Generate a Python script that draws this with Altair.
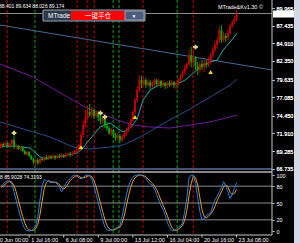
import json
import altair as alt
import pandas as pd

# ---------------- data ----------------
bar_open = [69.91, 70.34, 70.05, 70.49, 70.05, 70.34, 70.92, 69.91, 70.05, 69.62,
            69.91, 69.33, 68.90, 69.19, 68.61, 68.18, 67.74, 68.03, 67.60, 68.18,
            68.03, 68.47, 68.18, 68.61, 68.32, 68.61, 68.32, 68.61, 68.47, 68.75,
            68.47, 68.75, 68.90, 68.75, 69.04, 69.19, 69.47, 70.20, 71.64, 73.08,
            74.10, 74.96, 74.53, 75.25, 74.38, 74.81, 74.10, 73.66, 73.95, 72.94,
            72.65, 71.93, 72.36, 71.64, 71.21, 71.50, 70.92, 71.35, 71.78, 72.36,
            72.94, 73.80, 74.96, 76.69, 78.13, 79.57, 79.00, 79.57, 78.85, 79.29,
            78.71, 79.14, 79.57, 79.00, 79.43, 78.85, 79.14, 78.71, 79.14, 78.85,
            79.29, 78.85, 79.00, 79.57, 80.15, 80.73, 81.31, 81.88, 83.18, 82.17,
            82.75, 81.60, 81.02, 81.88, 81.45, 82.03, 81.74, 82.46, 83.18, 83.91,
            84.63, 85.35, 86.79, 85.35, 85.93, 85.64, 86.36, 87.37, 87.95, 88.401]
bar_close = [70.34, 70.05, 70.49, 70.05, 70.34, 70.92, 69.91, 70.05, 69.62, 69.91,
             69.33, 68.90, 69.19, 68.61, 68.18, 67.74, 68.03, 67.60, 68.18, 68.03,
             68.47, 68.18, 68.61, 68.32, 68.61, 68.32, 68.61, 68.47, 68.75, 68.47,
             68.75, 68.90, 68.75, 69.04, 69.19, 69.47, 70.20, 71.64, 73.08, 74.10,
             74.96, 74.53, 75.25, 74.38, 74.81, 74.10, 73.66, 73.95, 72.94, 72.65,
             71.93, 72.36, 71.64, 71.21, 71.50, 70.92, 71.35, 71.78, 72.36, 72.94,
             73.80, 74.96, 76.69, 78.13, 79.57, 79.00, 79.57, 78.85, 79.29, 78.71,
             79.14, 79.57, 79.00, 79.43, 78.85, 79.14, 78.71, 79.14, 78.85, 79.29,
             78.85, 79.00, 79.57, 80.15, 80.73, 81.31, 81.88, 83.18, 82.17, 82.75,
             81.60, 81.02, 81.88, 81.45, 82.03, 81.74, 82.46, 83.18, 83.91, 84.63,
             85.35, 86.79, 85.35, 85.93, 85.64, 86.36, 87.37, 87.95, 88.40, 89.174]
bar_high = [70.63, 70.49, 70.77, 70.63, 70.49, 71.06, 71.50, 70.34, 70.20, 70.05,
            70.05, 69.47, 69.33, 69.33, 68.75, 68.32, 68.18, 68.32, 68.32, 68.47,
            68.61, 68.75, 68.75, 68.75, 68.90, 68.75, 68.75, 68.90, 69.04, 68.90,
            69.04, 69.19, 69.19, 69.33, 69.47, 69.76, 70.34, 72.07, 73.80, 75.25,
            75.82, 76.11, 75.68, 75.53, 75.25, 75.10, 74.38, 74.38, 74.10, 73.51,
            72.94, 72.65, 72.51, 71.93, 71.93, 71.78, 71.64, 72.07, 72.65, 73.23,
            74.10, 75.25, 76.98, 78.71, 80.30, 80.15, 80.01, 79.86, 79.72, 79.57,
            79.43, 79.86, 79.72, 79.72, 79.57, 79.57, 79.29, 79.43, 79.57, 79.57,
            79.43, 79.29, 79.86, 80.44, 81.02, 81.74, 82.17, 83.91, 84.34, 84.48,
            83.04, 82.17, 82.17, 82.46, 82.46, 82.46, 82.89, 83.47, 84.34, 85.06,
            85.78, 87.37, 87.51, 86.50, 86.36, 86.79, 87.66, 88.23, 88.81, 89.634]
bar_low = [69.76, 69.91, 69.91, 69.76, 69.76, 70.05, 69.62, 69.62, 69.47, 69.33,
           69.19, 68.75, 68.61, 68.47, 68.03, 67.45, 67.17, 67.31, 67.45, 67.89,
           67.89, 68.03, 68.03, 68.18, 68.18, 68.03, 68.18, 68.32, 68.32, 68.32,
           68.32, 68.61, 68.47, 68.61, 68.90, 69.04, 69.33, 70.05, 71.35, 72.79,
           73.80, 74.24, 74.10, 73.95, 74.10, 73.66, 73.23, 73.23, 72.65, 72.22,
           71.64, 71.50, 71.21, 70.77, 70.92, 70.49, 70.63, 71.06, 71.50, 72.07,
           72.65, 73.51, 74.67, 76.40, 77.84, 78.42, 78.71, 78.42, 78.57, 78.28,
           78.42, 78.71, 78.57, 78.71, 78.42, 78.57, 78.28, 78.42, 78.57, 78.71,
           78.42, 78.13, 78.71, 79.29, 79.86, 80.44, 81.02, 81.60, 81.45, 81.60,
           81.02, 80.30, 80.59, 81.02, 80.73, 81.31, 81.45, 81.88, 82.75, 83.47,
           84.19, 84.92, 84.92, 85.06, 85.06, 85.35, 86.07, 87.08, 87.66, 88.026]

stoch_k = [80, 84, 88, 90, 88, 84, 70, 55, 40, 25,
           12, 4, 1, 0, 1, 3, 8, 25, 55, 80,
           92, 90, 88, 86, 88, 87, 84, 78, 70, 78,
           85, 90, 94, 98, 100, 98, 95, 93, 96, 99,
           100, 98, 92, 80, 65, 50, 35, 20, 8, 2,
           1, 2, 3, 5, 6, 10, 25, 45, 65, 80,
           90, 96, 99, 100, 100, 99, 98, 94, 88, 84,
           82, 75, 65, 55, 45, 38, 28, 15, 6, 1,
           0, 3, 7, 8, 15, 35, 60, 95, 100, 100,
           85, 60, 35, 20, 22, 28, 30, 32, 45, 55,
           62, 70, 78, 88, 80, 70, 58, 66, 76, 85.9028]
stoch_d = [78, 80, 84, 87, 89, 87, 81, 70, 55, 40,
           26, 14, 6, 2, 1, 1, 4, 12, 29, 53,
           76, 87, 90, 88, 87, 87, 86, 83, 77, 75,
           78, 84, 90, 94, 97, 99, 98, 95, 95, 96,
           98, 99, 97, 90, 79, 65, 50, 35, 21, 10,
           4, 2, 2, 3, 5, 7, 14, 27, 45, 63,
           78, 89, 95, 98, 100, 100, 99, 97, 93, 89,
           85, 80, 74, 65, 55, 46, 37, 27, 16, 7,
           2, 1, 3, 6, 10, 19, 37, 63, 85, 98,
           95, 82, 60, 38, 26, 23, 27, 30, 36, 44,
           54, 62, 70, 79, 82, 79, 69, 65, 67, 74.3193]

ma_fast_bar = [-0.5, 6.5, 13.4, 18.1, 20.4, 25.9, 30.6, 35.2, 37.5, 41.2, 45.8, 50.5, 53.7, 56.5,
               59.7, 63.0, 65.7, 69.0, 72.2, 75.9, 81.5, 85.2, 87.5, 92.1, 96.8, 100.0, 102.8,
               106.0, 109.3]
ma_fast_val = [69.91, 70.05, 69.76, 68.47, 68.18, 68.47, 68.75, 69.04, 69.62, 71.06, 72.79, 73.37,
               72.65, 72.07, 72.65, 73.95, 76.69, 78.13, 78.71, 79.00, 79.00, 79.57, 80.15, 81.45,
               82.17, 82.46, 83.91, 85.06, 86.36]
ma_mid_bar = [-0.5, 8.8, 22.7, 33.3, 41.2, 50.5, 56.5, 64.4, 72.2, 79.6, 87.5, 96.8, 106.0, 109.3]
ma_mid_val = [73.52, 72.65, 71.35, 69.91, 69.62, 69.91, 70.20, 71.35, 72.79, 74.09, 75.39, 77.12,
              78.85, 79.72]
ma_slow_bar = [-0.5, 14.8, 30.6, 39.8, 45.8, 53.7, 61.1, 69.0, 78.2, 87.5, 96.8, 109.3]
ma_slow_val = [81.88, 80.01, 77.12, 75.53, 74.81, 73.80, 73.08, 72.79, 72.65, 73.08, 73.52, 74.53]
trend_bar = [-0.5, 125.4]
trend_val = [87.51, 81.02]

red_signal_bars = [2.8, 35.2, 39.8, 43.1, 65.7, 88.9]
green_signal_bars = [15.7, 51.9, 54.6, 81.5]
cross_bars = [6, 46, 48, 90]
cross_prices = [71.93, 74.81, 74.24, 84.34]
arrow_bars = [37, 62, 97]
arrow_prices = [69.91, 74.24, 80.73]

price_ticks = [89.965, 87.435, 84.910, 82.350, 79.635, 77.085, 74.450, 71.910, 69.285, 66.735]
stoch_ticks = [100, 80, 50, 20, 0]
stoch_levels = [80, 50, 20]
time_tick_bars = [-3, 13, 29, 45, 61, 77, 93, 109]
time_tick_labels = ["30 Jun 00:00", "1 Jul 16:00", "6 Jul 08:00", "9 Jul 00:00",
                    "13 Jul 12:00", "16 Jul 04:00", "20 Jul 16:00", "23 Jul 08:00"]
ohlc_header = "88.401 89.634 88.026 89.174"
stoch_header = "8 85.9028 74.3193"
current_price = [89.174]

# ---------------- styling ----------------
FONT = "Liberation Sans"
TXT = "#ffffff"
W, H = 272, 235

bars = pd.DataFrame({"i": list(range(len(bar_close))), "o": bar_open, "c": bar_close,
                     "h": bar_high, "l": bar_low})
bars["dir"] = ["up" if c >= o else "down" for o, c in zip(bar_open, bar_close)]
stoch = pd.DataFrame({"i": list(range(len(stoch_k))), "k": stoch_k, "d": stoch_d})
tlab = pd.DataFrame({"i": time_tick_bars, "t": time_tick_labels})

x_scale = alt.Scale(domain=[-0.5, 125.4], nice=False, zero=False)
x_axis = None
p_scale = alt.Scale(domain=[66.59, 91.12], range=[170, 0], nice=False, zero=False)
p_axis = alt.Axis(orient="right", values=price_ticks, format=".3f", labelFont=FONT, labelFontSize=5.5,
                  labelColor=TXT, tickColor="#c8c8c8", tickSize=2, domain=False, grid=False, title=None,
                  labelPadding=2, labelOverlap=False, labelFlush=False)
s_scale = alt.Scale(domain=[0, 100], range=[231, 175], nice=False, zero=False)
s_axis = alt.Axis(orient="right", values=stoch_ticks, format="d", labelFont=FONT, labelFontSize=5.5,
                  labelColor=TXT, tickColor="#c8c8c8", tickSize=2, domain=False, grid=False, title=None,
                  labelPadding=2, labelOverlap=False, labelFlush=False)


def X(f):
    return alt.X(f, type="quantitative", scale=x_scale, axis=x_axis)


def YP(f):
    return alt.Y(f, type="quantitative", scale=p_scale, axis=p_axis)


def YS(f):
    return alt.Y(f, type="quantitative", scale=s_scale, axis=s_axis)


one = pd.DataFrame({"a": [0]})

# vertical signal lines
vl = pd.DataFrame({"i": red_signal_bars + green_signal_bars,
                   "col": ["r"] * len(red_signal_bars) + ["g"] * len(green_signal_bars)})
vlines = alt.Chart(vl).mark_rule(strokeDash=[3, 2], strokeWidth=1).encode(
    x=X("i"), y=alt.value(0), y2=alt.value(235),
    color=alt.Color("col:N", scale=alt.Scale(domain=["r", "g"], range=["#c00000", "#00a800"]), legend=None))

# time axis (ticks + labels drawn through the x scale)
tticks = alt.Chart(tlab).mark_rule(color="#c8c8c8", strokeWidth=1).encode(
    x=X("i"), y=alt.value(235), y2=alt.value(237.5))
ttext = alt.Chart(tlab).mark_text(font=FONT, fontSize=5.5, color=TXT, align="left", baseline="middle",
                                  dx=2).encode(x=X("i"), y=alt.value(239.5), text="t:N")

# main window
def line(bx, vals, color):
    return alt.Chart(pd.DataFrame({"i": bx, "v": vals})).mark_line(color=color, strokeWidth=1, clip=True).encode(
        x=X("i"), y=YP("v"))

trend = line(trend_bar, trend_val, "#4a6894")
ma_slow = line(ma_slow_bar, ma_slow_val, "#6e1a96")
ma_mid = line(ma_mid_bar, ma_mid_val, "#2a4c8c")
ma_fast = line(ma_fast_bar, ma_fast_val, "#20a8a8")
pline = alt.Chart(pd.DataFrame({"p": current_price})).mark_rule(color="#8a8a8a", strokeWidth=1).encode(
    y=YP("p"), x=alt.value(0), x2=alt.value(W))
cscale = alt.Scale(domain=["up", "down"], range=["#ff1010", "#00d800"])
wicks = alt.Chart(bars).mark_rule(strokeWidth=1).encode(
    x=X("i"), y=YP("h"), y2="l", color=alt.Color("dir:N", scale=cscale, legend=None))
bodies = alt.Chart(bars).mark_rule(strokeWidth=2).encode(
    x=X("i"), y=YP("o"), y2="c", color=alt.Color("dir:N", scale=cscale, legend=None))
crosses = alt.Chart(pd.DataFrame({"i": cross_bars, "p": cross_prices})).mark_point(
    shape="cross", filled=True, size=22, color="#d8d878", opacity=1).encode(x=X("i"), y=YP("p"))
arrows = alt.Chart(pd.DataFrame({"i": arrow_bars, "p": arrow_prices})).mark_point(
    shape="triangle-up", filled=True, size=20, color="#ffd800", opacity=1).encode(x=X("i"), y=YP("p"))
price_txt = alt.Chart(pd.DataFrame({"p": current_price})).mark_text(
    font=FONT, fontSize=5.5, color="#000000", align="left", baseline="middle").encode(
    y=YP("p"), x=alt.value(W + 3), text=alt.Text("p:Q", format=".3f"))

main = alt.layer(trend, ma_slow, ma_mid, ma_fast, pline, wicks, bodies, crosses, arrows)

# stochastic window
lev = alt.Chart(pd.DataFrame({"v": stoch_levels})).mark_rule(color="#8c8c8c", strokeWidth=1).encode(
    y=YS("v"), x=alt.value(0), x2=alt.value(W))
k_line = alt.Chart(stoch).mark_line(color="#2a7ee0", strokeWidth=1).encode(x=X("i"), y=YS("k"))
d_line = alt.Chart(stoch).mark_line(color="#e89a24", strokeWidth=1).encode(x=X("i"), y=YS("d"))
stoch_layer = alt.layer(lev, d_line, k_line)

# chrome
def rect(x1, x2, y1, y2, fill, stroke=None):
    kw = {"fill": fill}
    if stroke:
        kw["stroke"] = stroke
        kw["strokeWidth"] = 1
    return alt.Chart(one).mark_rect(**kw).encode(
        x=alt.value(x1), x2=alt.value(x2), y=alt.value(y1), y2=alt.value(y2))

def hrule(y, color, w=1, x1=0, x2=W):
    return alt.Chart(one).mark_rule(color=color, strokeWidth=w).encode(
        x=alt.value(x1), x2=alt.value(x2), y=alt.value(y))

def vrule(x, color, y1, y2, w=1):
    return alt.Chart(one).mark_rule(color=color, strokeWidth=w).encode(
        x=alt.value(x), y=alt.value(y1), y2=alt.value(y2))

def txt(s, x, y, size, color=TXT, font=FONT, align="left"):
    return alt.Chart(one).mark_text(text=s, font=font, fontSize=size, color=color, align=align,
                                    baseline="middle").encode(x=alt.value(x), y=alt.value(y))

chrome = alt.layer(
    hrule(169, "#5a6e98", 1.5),
    hrule(172, "#b4b4b4", 1.5),
    hrule(235, "#c8c8c8", 1),
    vrule(272, "#c8c8c8", 0, 235),
    rect(294, 300, 0, 243, "#d0dae6"),
    rect(273, 294, 10.5, 17.5, "#ffffff"),
    txt(ohlc_header, -1, 5.5, 5),
    txt(stoch_header, 0, 176.5, 5),
    txt("MTrade&Kv1.30 \u00a9", 263, 6.5, 5.5, align="right"),
    rect(43, 145, 10, 21, "#2e3a4a", "#9aa4b0"),
    rect(71, 125, 11, 20, "#ff0000"),
    rect(125, 144, 11, 20, "#4c5c80", "#9aa4b0"),
    txt("MTrade", 48, 15.5, 6.5),
    txt("一键平仓", 98, 15.5, 6.5, font="Noto Sans CJK SC", align="center"),
    txt("\u25bc", 134, 15.5, 5, align="center"),
)

chart = alt.layer(vlines, main, price_txt, stoch_layer, tticks, ttext, chrome).resolve_scale(
    y="independent").properties(
    width=W, height=H, padding={"left": 0, "top": 0, "right": 28, "bottom": 8},
    autosize=alt.AutoSizeParams(type="none")
).configure(background="#000000").configure_view(strokeWidth=0, fill="#000000")

chart.save("out.html", embed_options={"renderer": "svg", "actions": False})
